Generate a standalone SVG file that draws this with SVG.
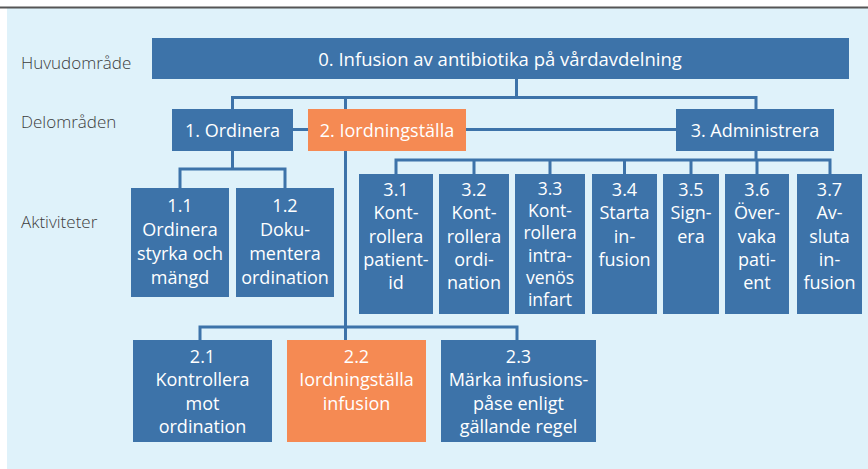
<svg xmlns="http://www.w3.org/2000/svg" width="868" height="469" viewBox="0 0 868 469">
<style>
.box{fill:#3d73a9}
.hl{fill:#f58a53}
.t{font-family:"Open Sans","Noto Sans","Liberation Sans",sans-serif;font-size:18px;fill:#ffffff;text-anchor:middle}
.sm{font-size:17.5px}
.lbl{font-family:"Open Sans","Noto Sans","Liberation Sans",sans-serif;font-size:17px;font-weight:300;fill:#3c3c3c}
.c{fill:none;stroke:#3d73a9;stroke-width:3}
</style>
<rect x="0" y="0" width="868" height="469" fill="#ffffff"/>
<rect x="7" y="8" width="861" height="461" fill="#dff2fa"/>
<line x1="0" y1="7.5" x2="868" y2="7.5" stroke="#555555" stroke-width="2"/>
<g id="labels">
<text class="lbl" x="21" y="69">Huvudområde</text>
<text class="lbl" x="21" y="128">Delområden</text>
<text class="lbl" x="21" y="228">Aktiviteter</text>
</g>
<g id="connectors">
<path class="c" d="M516.5 79V97.5M232.5 109V97.5H756V109M345.5 97.5V340"/>
<path class="c" d="M293 129.5H676"/>
<path class="c" d="M232.5 151V169M180 188V169H285V188"/>
<path class="c" d="M756 151V160M396 174V160H830V174M474 160V174M550 160V174M624.5 160V174M691 160V174M757 160V174"/>
<path class="c" d="M200 340V327H517V340"/>
</g>
<g id="n0"><rect class="box" x="152" y="38" width="697" height="41"/><text class="t" x="500" y="66" style="font-size:18.5px">0. Infusion av antibiotika på vårdavdelning</text></g>
<g id="n1"><rect class="box" x="172" y="109" width="121" height="42"/><text class="t" x="232.5" y="137">1. Ordinera</text></g>
<g id="n2"><rect class="hl" x="308" y="109" width="158" height="42"/><text class="t" x="387" y="137">2. Iordningställa</text></g>
<g id="n3"><rect class="box" x="676" y="109" width="158" height="42"/><text class="t" x="755" y="137">3. Administrera</text></g>
<g id="n1_1"><rect class="box" x="131" y="188" width="98" height="109"/><text class="t" x="180" y="212">1.1<tspan x="180" dy="24">Ordinera</tspan><tspan x="180" dy="24">styrka och</tspan><tspan x="180" dy="24">mängd</tspan></text></g>
<g id="n1_2"><rect class="box" x="236" y="188" width="98" height="109"/><text class="t" x="285" y="212">1.2<tspan x="285" dy="24">Doku-</tspan><tspan x="285" dy="24">mentera</tspan><tspan x="285" dy="24">ordination</tspan></text></g>
<g id="n3_1"><rect class="box" x="359" y="174" width="74" height="140"/><text class="t" x="396" y="196">3.1<tspan x="396" dy="23.3">Kont-</tspan><tspan x="396" dy="23.3">rollera</tspan><tspan x="396" dy="23.3">patient-</tspan><tspan x="396" dy="23.3">id</tspan></text></g>
<g id="n3_2"><rect class="box" x="439" y="174" width="70" height="140"/><text class="t" x="474" y="196">3.2<tspan x="474" dy="23.3">Kont-</tspan><tspan x="474" dy="23.3">rollera</tspan><tspan x="474" dy="23.3">ordi-</tspan><tspan x="474" dy="23.3">nation</tspan></text></g>
<g id="n3_3"><rect class="box" x="515" y="174" width="70" height="140"/><text class="t sm" x="550" y="195">3.3<tspan x="550" dy="22.2">Kont-</tspan><tspan x="550" dy="22.2">rollera</tspan><tspan x="550" dy="22.2">intra-</tspan><tspan x="550" dy="22.2">venös</tspan><tspan x="550" dy="22.2">infart</tspan></text></g>
<g id="n3_4"><rect class="box" x="592" y="174" width="65" height="140"/><text class="t" x="624.5" y="196">3.4<tspan x="624.5" dy="23.3">Starta</tspan><tspan x="624.5" dy="23.3">in-</tspan><tspan x="624.5" dy="23.3">fusion</tspan></text></g>
<g id="n3_5"><rect class="box" x="663" y="174" width="56" height="140"/><text class="t" x="691" y="196">3.5<tspan x="691" dy="23.3">Sign-</tspan><tspan x="691" dy="23.3">era</tspan></text></g>
<g id="n3_6"><rect class="box" x="725" y="174" width="64" height="140"/><text class="t" x="757" y="196">3.6<tspan x="757" dy="23.3">Över-</tspan><tspan x="757" dy="23.3">vaka</tspan><tspan x="757" dy="23.3">pati-</tspan><tspan x="757" dy="23.3">ent</tspan></text></g>
<g id="n3_7"><rect class="box" x="797" y="174" width="65" height="140"/><text class="t" x="829.5" y="196">3.7<tspan x="829.5" dy="23.3">Av-</tspan><tspan x="829.5" dy="23.3">sluta</tspan><tspan x="829.5" dy="23.3">in-</tspan><tspan x="829.5" dy="23.3">fusion</tspan></text></g>
<g id="n2_1"><rect class="box" x="133" y="340" width="139" height="102"/><text class="t" x="202.5" y="363">2.1<tspan x="202.5" dy="23.3">Kontrollera</tspan><tspan x="202.5" dy="23.3">mot</tspan><tspan x="202.5" dy="23.3">ordination</tspan></text></g>
<g id="n2_2"><rect class="hl" x="287" y="340" width="139" height="102"/><text class="t" x="356.5" y="363">2.2<tspan x="356.5" dy="23.3">Iordningställa</tspan><tspan x="356.5" dy="23.3">infusion</tspan></text></g>
<g id="n2_3"><rect class="box" x="441" y="340" width="155" height="102"/><text class="t" x="518.5" y="363">2.3<tspan x="518.5" dy="23.3">Märka infusions-</tspan><tspan x="518.5" dy="23.3">påse enligt</tspan><tspan x="518.5" dy="23.3">gällande regel</tspan></text></g>
</svg>
